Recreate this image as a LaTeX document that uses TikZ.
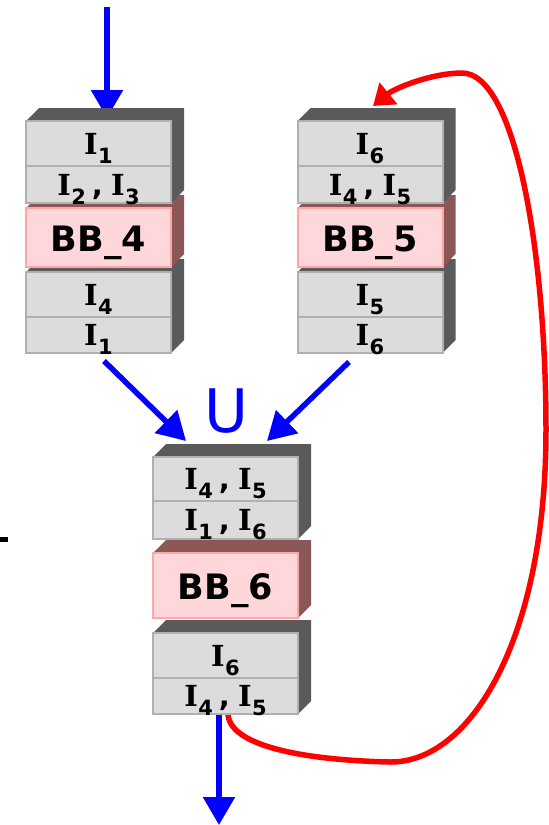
\documentclass[tikz,border=0pt]{standalone}
\usepackage{fontspec}
\setmainfont{DejaVu Sans}
\newfontfamily\serifI{DejaVu Serif}
\usetikzlibrary{arrows.meta}
\pgfdeclarelayer{backdrop}
\pgfdeclarelayer{wires}
\pgfsetlayers{backdrop,wires,main}

\definecolor{rowfill}{HTML}{DCDCDC}
\definecolor{rowedge}{HTML}{B0B0B0}
\definecolor{slabdark}{HTML}{5A5A5A}
\definecolor{bbfill}{HTML}{FFD6D9}
\definecolor{bbedge}{HTML}{FFA6A6}
\definecolor{bbdark}{HTML}{8C5757}

% I with a lowered index
\newcommand\Isub[1]{{\serifI\bfseries I}\kern0.5pt\raisebox{-9pt}[0pt][0pt]{\fontsize{21}{21}\selectfont\bfseries #1}}
\newcommand\Ipair[2]{\Isub{#1}\kern6pt,\kern8pt\Isub{#2}}
% dark top and right faces of a slab whose front spans x1..x2, ytop..ybot
\newcommand\slabfaces[5]{\fill[#5] (#1,#3) -- (#1+13,#3-13) -- (#2+13,#3-13) -- (#2+13,#4-13) -- (#2,#4) -- cycle;}

\begin{document}
\begin{tikzpicture}[x=1pt, y=-1pt,
  rowbox/.style={rectangle, draw=rowedge, fill=rowfill, line width=2pt,
    minimum width=145pt, inner sep=0pt, text height=21pt, text depth=0pt,
    font=\fontsize{29}{29}\selectfont\bfseries},
  bbbox/.style={rectangle, draw=bbedge, fill=bbfill, line width=2pt,
    minimum width=145pt, inner sep=0pt, text height=28pt, text depth=0pt,
    font=\fontsize{35}{35}\selectfont\bfseries},
  flow/.style={draw=blue, line width=5.5pt, -{Triangle[width=31pt,length=28pt]}},
  loopback/.style={draw=red, line width=5.5pt, -{Triangle[width=27pt,length=20pt]}}]

\begin{pgfonlayer}{backdrop}
  \fill[white] (0,0) rectangle (549,825);
\end{pgfonlayer}
\useasboundingbox (0,0) rectangle (549,825);

% ---- left stack: BB_4 ----
\slabfaces{26}{171}{272}{353}{slabdark}
\node[rowbox, minimum height=45pt] (lb1) at (98.5,294.5) {\Isub{4}};
\node[rowbox, minimum height=36pt] (lb2) at (98.5,335) {\Isub{1}};
\slabfaces{26}{171}{208}{267}{bbdark}
\node[bbbox, minimum height=59pt] (lbb) at (98.5,237.5) {BB\_4};
\slabfaces{26}{171}{121}{203}{slabdark}
\node[rowbox, minimum height=45pt] (lt1) at (98.5,143.5) {\Isub{1}};
\node[rowbox, minimum height=37pt] (lt2) at (98.5,184.5) {\Ipair{2}{3}};

% ---- right stack: BB_5 ----
\slabfaces{297.5}{442.5}{272}{353}{slabdark}
\node[rowbox, minimum height=45pt] (rb1) at (370,294.5) {\Isub{5}};
\node[rowbox, minimum height=36pt] (rb2) at (370,335) {\Isub{6}};
\slabfaces{297.5}{442.5}{208}{267}{bbdark}
\node[bbbox, minimum height=59pt] (rbb) at (370,237.5) {BB\_5};
\slabfaces{297.5}{442.5}{121}{203}{slabdark}
\node[rowbox, minimum height=45pt] (rt1) at (370,143.5) {\Isub{6}};
\node[rowbox, minimum height=37pt] (rt2) at (370,184.5) {\Ipair{4}{5}};

% ---- centre stack: BB_6 ----
\slabfaces{153}{298}{633}{714}{slabdark}
\node[rowbox, minimum height=45pt] (cb1) at (225.5,655.5) {\Isub{6}};
\node[rowbox, minimum height=36pt] (cb2) at (225.5,696) {\Ipair{4}{5}};
\slabfaces{153}{298}{553}{618}{bbdark}
\node[bbbox, minimum height=65pt] (cbb) at (225.5,585.5) {BB\_6};
\slabfaces{153}{298}{457}{539}{slabdark}
\node[rowbox, minimum height=44pt] (ct1) at (225.5,479) {\Ipair{4}{5}};
\node[rowbox, minimum height=38pt] (ct2) at (225.5,520) {\Ipair{1}{6}};

% union sign
\node[text=blue, font=\fontsize{60}{60}\selectfont, anchor=base, inner sep=0pt] (union) at (226.5,432) {U};

% small mark at the left edge
\fill[black] (0,537) rectangle (8,542);

% ---- connectors ----
\begin{pgfonlayer}{wires}
  \coordinate (entry) at (107,7);
  \coordinate (exit) at (219,825);
  \draw[flow] (entry) -- ([shift={(8.5,-2)}]lt1.north);
  \draw[flow] ([shift={(5.5,7)}]lb2.south) -- ([shift={(-39.5,-15)}]ct1.north);
  \draw[flow] ([shift={(-21,8)}]rb2.south) -- ([shift={(41.5,-15)}]ct1.north);
  \draw[flow] ([shift={(-6.5,0)}]cb2.south) -- (exit);
  \draw[loopback] ([shift={(2.5,-2)}]cb2.south)
    .. controls (228,745) and (300,760) .. (390,762)
    .. controls (470,763) and (546,640) .. (546,430)
    .. controls (546,250) and (515,73) .. (462,73)
    .. controls (432,73) and (395,88) .. ([shift={(3,-14)}]rt1.north);
\end{pgfonlayer}
\end{tikzpicture}
\end{document}
